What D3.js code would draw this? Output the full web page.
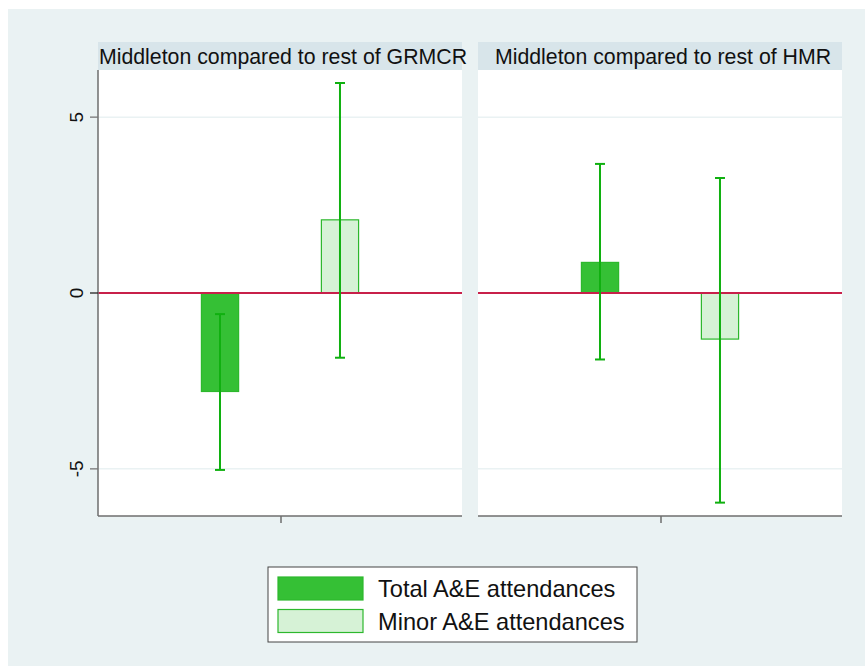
<!DOCTYPE html>
<html>
<head>
<meta charset="utf-8">
<script src="https://cdn.jsdelivr.net/npm/d3@7"></script>
<style>
  html, body { margin: 0; padding: 0; background: #ffffff; }
  svg { display: block; font-family: "Liberation Sans", Arial, sans-serif; }
</style>
</head>
<body>
<svg id="chart" width="865" height="666"></svg>
<script>
// ---- data ----
const panels = ["Middleton compared to rest of GRMCR", "Middleton compared to rest of HMR"];
const series = ["Total A&E attendances", "Minor A&E attendances"];
// estimate per panel, per series
const estimates = [[-2.8, 2.08], [0.87, -1.31]];
const lowerCI   = [[-5.03, -1.84], [-1.89, -5.96]];
const upperCI   = [[-0.6, 5.97], [3.67, 3.27]];
const yTicks = [-5, 0, 5];

// ---- styles ----
const bg = "#EAF2F3", header = "#D8E5EA";
const fills = ["#35C035", "#D6F2D6"];
const strokes = ["#2DB82D", "#2DB82D"];
const errColor = "#10B010";

const svg = d3.select("#chart");
svg.append("rect").attr("x", 8).attr("y", 9).attr("width", 857).attr("height", 657).attr("fill", bg);

const plotTop = 70, plotBottom = 516, headerTop = 42;
const panelX = [98, 478], panelW = 364;

const y = d3.scaleLinear().domain([-6.34, 6.34]).range([plotBottom, plotTop]);
const xb = d3.scaleBand().domain(series).range([0, panelW]).paddingInner(0.69).paddingOuter(0.862);

panels.forEach((title, p) => {
  const g = svg.append("g").attr("transform", `translate(${panelX[p]},0)`);
  // header
  g.append("rect").attr("x", 0).attr("y", headerTop).attr("width", panelW).attr("height", plotTop - headerTop).attr("fill", header);
  g.append("text").attr("x", panelW / 2 + 3).attr("y", plotTop - 6).attr("text-anchor", "middle")
    .attr("font-size", 21.3).attr("fill", "#111").text(title);
  // plot area
  g.append("rect").attr("x", 0).attr("y", plotTop).attr("width", panelW).attr("height", plotBottom - plotTop).attr("fill", "#fff");
  // grid
  g.selectAll(".grid").data(yTicks.filter(d => d !== 0)).enter().append("line")
    .attr("x1", 0).attr("x2", panelW).attr("y1", d => y(d)).attr("y2", d => y(d))
    .attr("stroke", bg).attr("stroke-width", 1.5);

  // bars
  series.forEach((s, i) => {
    const v = estimates[p][i];
    g.append("rect")
      .attr("x", xb(s)).attr("width", xb.bandwidth())
      .attr("y", y(Math.max(0, v))).attr("height", Math.abs(y(v) - y(0)))
      .attr("fill", fills[i]).attr("stroke", strokes[i]).attr("stroke-width", 1.2);
  });
  // zero line
  g.append("line").attr("x1", 0).attr("x2", panelW).attr("y1", y(0)).attr("y2", y(0))
    .attr("stroke", "#C8204A").attr("stroke-width", 1.8);
  // error bars
  series.forEach((s, i) => {
    const cx = xb(s) + xb.bandwidth() / 2;
    const lo = y(lowerCI[p][i]), hi = y(upperCI[p][i]);
    g.append("line").attr("x1", cx).attr("x2", cx).attr("y1", lo).attr("y2", hi).attr("stroke", errColor).attr("stroke-width", 2);
    [lo, hi].forEach(yy => g.append("line").attr("x1", cx - 5).attr("x2", cx + 5).attr("y1", yy).attr("y2", yy).attr("stroke", errColor).attr("stroke-width", 2));
  });

  // bottom axis
  g.append("line").attr("x1", 0).attr("x2", panelW).attr("y1", plotBottom).attr("y2", plotBottom).attr("stroke", "#6e6e6e").attr("stroke-width", 1.5);
  g.append("line").attr("x1", panelW / 2 + 1).attr("x2", panelW / 2 + 1).attr("y1", plotBottom).attr("y2", plotBottom + 7).attr("stroke", "#6e6e6e").attr("stroke-width", 1.5);
});

// y axis on first panel
const ya = svg.append("g");
ya.append("line").attr("x1", panelX[0]).attr("x2", panelX[0]).attr("y1", plotTop).attr("y2", plotBottom).attr("stroke", "#6e6e6e").attr("stroke-width", 1.5);
yTicks.forEach(t => {
  ya.append("line").attr("x1", panelX[0] - 8).attr("x2", panelX[0]).attr("y1", y(t)).attr("y2", y(t)).attr("stroke", t === 0 ? "#222" : "#777").attr("stroke-width", 1.3);
  ya.append("text").attr("transform", `translate(${panelX[0] - 15},${y(t)}) rotate(-90)`)
    .attr("text-anchor", "middle").attr("font-size", 19).attr("fill", "#111").text(t);
});

// legend
const lg = svg.append("g");
lg.append("rect").attr("x", 268).attr("y", 567).attr("width", 369).attr("height", 75).attr("fill", "#fff").attr("stroke", "#444").attr("stroke-width", 1);
series.forEach((s, i) => {
  const yy = 577 + i * 32.5;
  lg.append("rect").attr("x", 278).attr("y", yy).attr("width", 85).attr("height", 23)
    .attr("fill", fills[i]).attr("stroke", strokes[i]).attr("stroke-width", 1.2);
  lg.append("text").attr("x", 378).attr("y", yy + 20).attr("font-size", 23.6).attr("fill", "#111").text(s);
});
</script>
</body>
</html>
